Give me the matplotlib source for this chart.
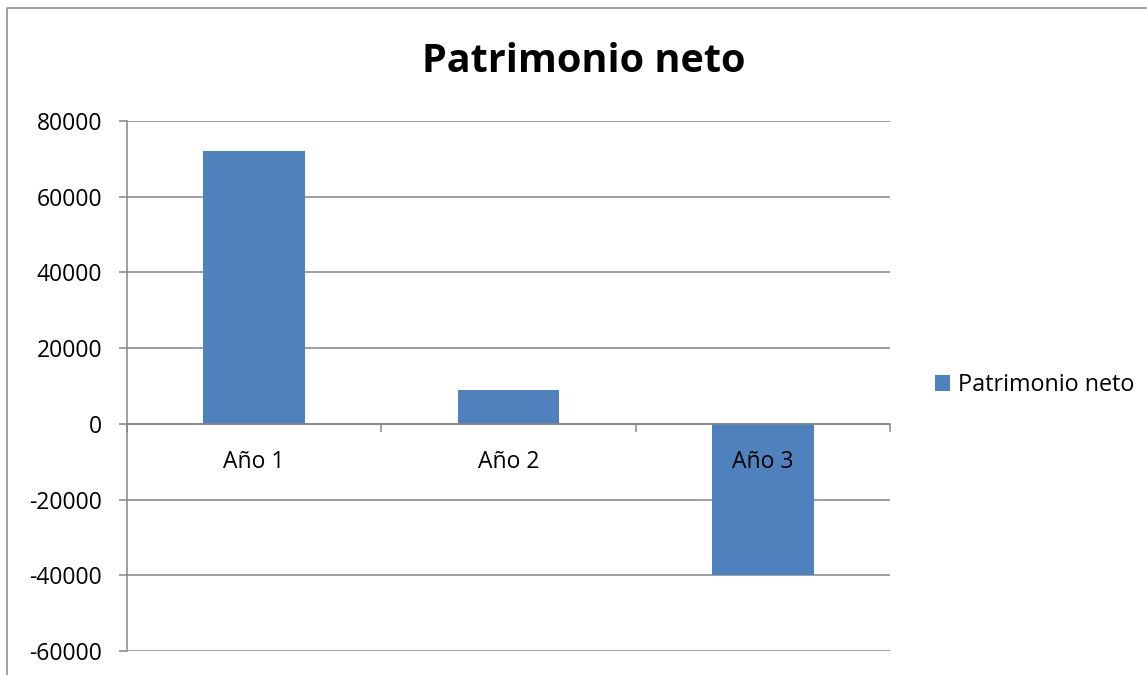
import matplotlib.pyplot as plt
import numpy as np
from matplotlib.lines import Line2D
from matplotlib.ticker import FixedLocator, NullFormatter

plt.rcParams['font.family'] = ['Open Sans', 'DejaVu Sans']

categories = ['Año 1', 'Año 2', 'Año 3']
values = [72000, 9000, -40000]
series_name = 'Patrimonio neto'
y_ticks = [-60000, -40000, -20000, 0, 20000, 40000, 60000, 80000]

bar_color = '#4F81BD'
grid_color = '#868686'

fig = plt.figure(figsize=(11.47, 6.75), dpi=100)
ax = fig.add_axes([127 / 1147, 24 / 675, 763 / 1147, 530 / 675])

x = np.arange(len(categories))
ax.bar(x, values, width=0.4, color=bar_color, label=series_name, zorder=3)

ax.set_xlim(-0.5, len(categories) - 0.5)
ax.set_ylim(y_ticks[0], y_ticks[-1])
ax.set_yticks(y_ticks)
ax.set_yticklabels([str(v) for v in y_ticks])
ax.yaxis.grid(True, color=grid_color, linewidth=1.1)
ax.yaxis.set_zorder(0.5)
# category labels sit on top of the bars, as in Excel
ax.xaxis.set_zorder(5)

for s in ['top', 'right']:
    ax.spines[s].set_visible(False)
ax.spines['left'].set_color(grid_color)
ax.spines['left'].set_linewidth(1.1)
ax.spines['bottom'].set_position(('data', 0))
ax.spines['bottom'].set_color(grid_color)
ax.spines['bottom'].set_linewidth(1.1)
ax.spines['bottom'].set_zorder(4)

# category boundary ticks, labels centred on bars
ax.xaxis.set_major_locator(FixedLocator(np.arange(-0.5, len(categories), 1.0)))
ax.xaxis.set_major_formatter(NullFormatter())
ax.xaxis.set_minor_locator(FixedLocator(x))
ax.set_xticklabels(categories, minor=True)
ax.tick_params(axis='x', which='major', direction='out', length=6,
               width=1.1, color=grid_color)
ax.tick_params(axis='x', which='minor', length=0, pad=19, labelsize=16.5)
ax.tick_params(axis='y', direction='out', length=6, width=1.1,
               color=grid_color, pad=12, labelsize=16.5)

fig.text(584 / 1147, 1 - 62 / 675, 'Patrimonio neto', ha='center', va='center',
         fontsize=28.5, fontweight='bold')

fig.legend(loc='center left', bbox_to_anchor=(935 / 1147, 1 - 385 / 675),
           frameon=False, fontsize=16.8, handlelength=0.65, handleheight=0.65,
           handletextpad=0.35, borderpad=0, borderaxespad=0)

# outer chart frame
fig.add_artist(Line2D([7 / 1147, 7 / 1147, 1], [0, 1 - 8 / 675, 1 - 8 / 675],
                      transform=fig.transFigure, color=grid_color, linewidth=1.1))

fig.savefig('out.png', dpi=100)
